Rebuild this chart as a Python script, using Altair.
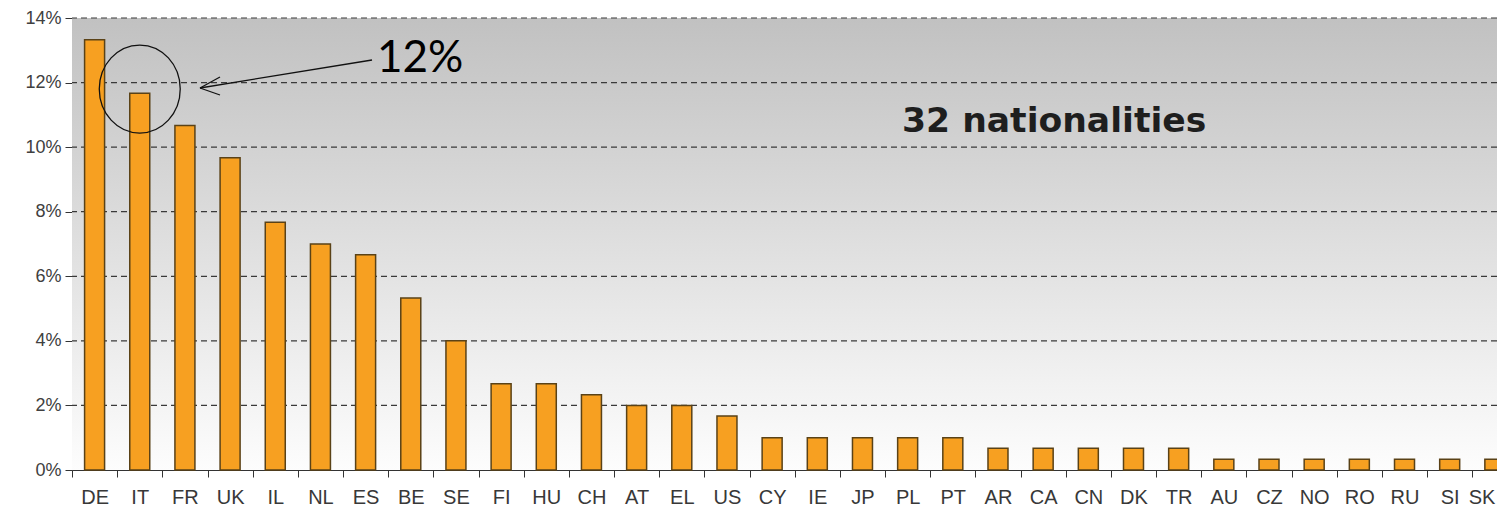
import altair as alt
import pandas as pd

# ---- data ----
countries = ["DE", "IT", "FR", "UK", "IL", "NL", "ES", "BE", "SE", "FI", "HU", "CH", "AT", "EL", "US",
             "CY", "IE", "JP", "PL", "PT", "AR", "CA", "CN", "DK", "TR", "AU", "CZ", "NO", "RO", "RU",
             "SI", "SK"]
shares = [13.33, 11.67, 10.67, 9.67, 7.67, 7.00, 6.67, 5.33, 4.00, 2.67, 2.67, 2.33, 2.00, 2.00, 1.67,
          1.00, 1.00, 1.00, 1.00, 1.00, 0.67, 0.67, 0.67, 0.67, 0.67, 0.33, 0.33, 0.33, 0.33, 0.33,
          0.33, 0.33]
y_ticks = [0, 2, 4, 6, 8, 10, 12, 14]
grid_values = [2, 4, 6, 8, 10, 12, 14]
highlight_country = ["IT"]
highlight_center = [11.8]
highlight_label = "12%"
note_label = "32 nationalities"
edge_label = "SK"

# ---- layout ----
W = 1425          # visible plot width (chart is cropped on the right like the reference)
H = 452
BAND = 45.17
x_range = [0, BAND * len(countries)]

df = pd.DataFrame({"country": countries, "share": shares})

xscale = alt.Scale(domain=countries, range=x_range, paddingInner=0, paddingOuter=0)
yscale = alt.Scale(domain=[0, 14], nice=False, zero=True)

y_axis = alt.Axis(title=None, values=y_ticks, labelExpr="datum.value + '%'",
                  labelFont="Liberation Sans", labelFontSize=18,
                  labelColor="#404040", tickSize=7, tickColor="#333333",
                  domainColor="#333333", labelPadding=4, grid=False)
x_axis = alt.Axis(title=None, labelAngle=0,
                  labelFont="Liberation Sans Narrow, Liberation Sans",
                  labelFontSize=20, labelColor="#383838", tickBand="extent",
                  tickSize=7, tickColor="#333333", domainColor="#333333",
                  labelPadding=10, grid=False, labelOverlap=False,
                  labelAlign={"condition": {"test": f"datum.value === '{edge_label}'",
                                            "value": "right"},
                              "value": "center"})

gradient = alt.LinearGradient(
    gradient="linear",
    stops=[alt.GradientStop(color="#c1c1c1", offset=0),
           alt.GradientStop(color="#fdfdfd", offset=1)],
    x1=0, x2=0, y1=0, y2=1,
)

one = pd.DataFrame({"a": [0]})

bg = alt.Chart(one).mark_rect(color=gradient).encode(
    x=alt.value(0), x2=alt.value(W), y=alt.value(0), y2=alt.value(H)
)

grid = alt.Chart(pd.DataFrame({"g": grid_values})).mark_rule(
    color="#3a3a3a", strokeDash=[6, 4], strokeWidth=1.2
).encode(y=alt.Y("g:Q", scale=yscale, axis=y_axis))

bars = alt.Chart(df).mark_bar(
    size=20, fill="#F7A021", stroke="#5a4217", strokeWidth=1.5
).encode(
    x=alt.X("country:N", sort=None, scale=xscale, axis=x_axis),
    y=alt.Y("share:Q", scale=yscale, axis=y_axis),
)

ellipse_path = "M -0.92 0 A 0.92 1 0 1 0 0.92 0 A 0.92 1 0 1 0 -0.92 0 Z"
circle = alt.Chart(pd.DataFrame({"country": highlight_country, "y": highlight_center})).mark_point(
    shape=ellipse_path, size=7744, filled=False, stroke="#111111", strokeWidth=1.3, opacity=1
).encode(x=alt.X("country:N", scale=xscale, axis=x_axis),
         y=alt.Y("y:Q", scale=yscale, axis=y_axis))

arrow_shaft = alt.Chart(one).mark_rule(color="#111111", strokeWidth=1.3).encode(
    x=alt.value(300), x2=alt.value(128), y=alt.value(42), y2=alt.value(70))
arrow_head1 = alt.Chart(one).mark_rule(color="#111111", strokeWidth=1.3).encode(
    x=alt.value(128), x2=alt.value(148), y=alt.value(70), y2=alt.value(59))
arrow_head2 = alt.Chart(one).mark_rule(color="#111111", strokeWidth=1.3).encode(
    x=alt.value(128), x2=alt.value(148), y=alt.value(70), y2=alt.value(77))

label12 = alt.Chart(one).mark_text(
    text=highlight_label, align="left", baseline="alphabetic", font="Lato",
    fontSize=44, color="#000000"
).encode(x=alt.value(305), y=alt.value(54))

note = alt.Chart(one).mark_text(
    text=note_label, align="left", baseline="alphabetic", font="DejaVu Sans",
    fontWeight="bold", fontSize=34.6, color="#1e1e1e"
).encode(x=alt.value(830), y=alt.value(114))

chart = alt.layer(
    bg, grid, bars, circle, arrow_shaft, arrow_head1, arrow_head2, label12, note
).properties(
    width=W, height=H,
    autosize=alt.AutoSizeParams(type="none"),
    padding={"left": 64, "top": 10, "right": 0, "bottom": 36},
    background="white",
).configure_view(stroke=None)

chart.save("out.html", embed_options={"renderer": "svg", "actions": False})
